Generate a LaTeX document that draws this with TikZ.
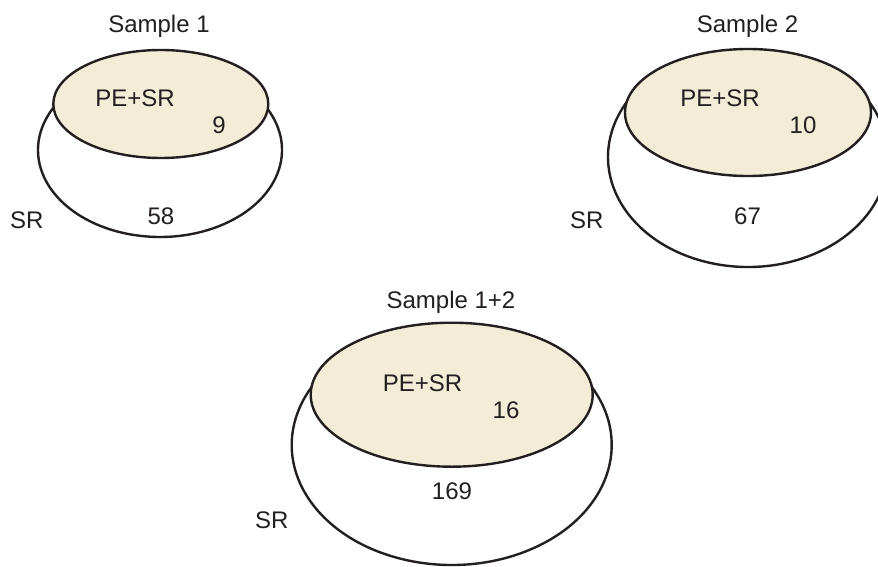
\documentclass[tikz,border=0pt]{standalone}
\usepackage{fontspec}
\setmainfont{Liberation Sans}
\definecolor{cream}{RGB}{243,236,214}
\definecolor{ink}{RGB}{35,31,32}
\begin{document}
\begin{tikzpicture}[x=1pt,y=-1pt,
  outerset/.style={draw=ink,line width=2.4pt},
  innerset/.style={draw=ink,fill=cream,line width=2.4pt},
  lbl/.style={anchor=base,inner sep=0pt,text=ink,font=\fontsize{24}{28}\selectfont}]
\clip (0,0) rectangle (878,567);
\fill[white] (0,0) rectangle (878,567);
% Sample 1
\draw[outerset] (160,150) ++(-32:122 and 87) arc[start angle=-32,end angle=212,x radius=122,y radius=87];
\draw[innerset] (160.8,104) ellipse[x radius=107.5,y radius=54];
\node[lbl] (t1) at (159,33) {Sample 1};
\node[lbl] (pe1) at (135,106.7) {PE+SR};
\node[lbl] (n1) at (219,134) {9};
\node[lbl] (m1) at (161,224) {58};
\node[lbl] (sr1) at (26.7,228) {SR};
% Sample 2
\draw[outerset] (748,157) ++(-30:140 and 110) arc[start angle=-30,end angle=210,x radius=140,y radius=110];
\draw[innerset] (748,112.5) ellipse[x radius=123,y radius=63.5];
\node[lbl] (t2) at (747.5,33) {Sample 2};
\node[lbl] (pe2) at (720,107) {PE+SR};
\node[lbl] (n2) at (803,134) {10};
\node[lbl] (m2) at (747.5,224) {67};
\node[lbl] (sr2) at (586.7,228) {SR};
% Sample 1+2
\draw[outerset] (451.7,445) ++(-30:160 and 120) arc[start angle=-30,end angle=210,x radius=160,y radius=120];
\draw[innerset] (451.7,394.7) ellipse[x radius=141,y radius=72];
\node[lbl] (t3) at (451,308.3) {Sample 1+2};
\node[lbl] (pe3) at (422.5,391.7) {PE+SR};
\node[lbl] (n3) at (506,418) {16};
\node[lbl] (m3) at (452,499) {169};
\node[lbl] (sr3) at (271.7,528) {SR};
\end{tikzpicture}
\end{document}
